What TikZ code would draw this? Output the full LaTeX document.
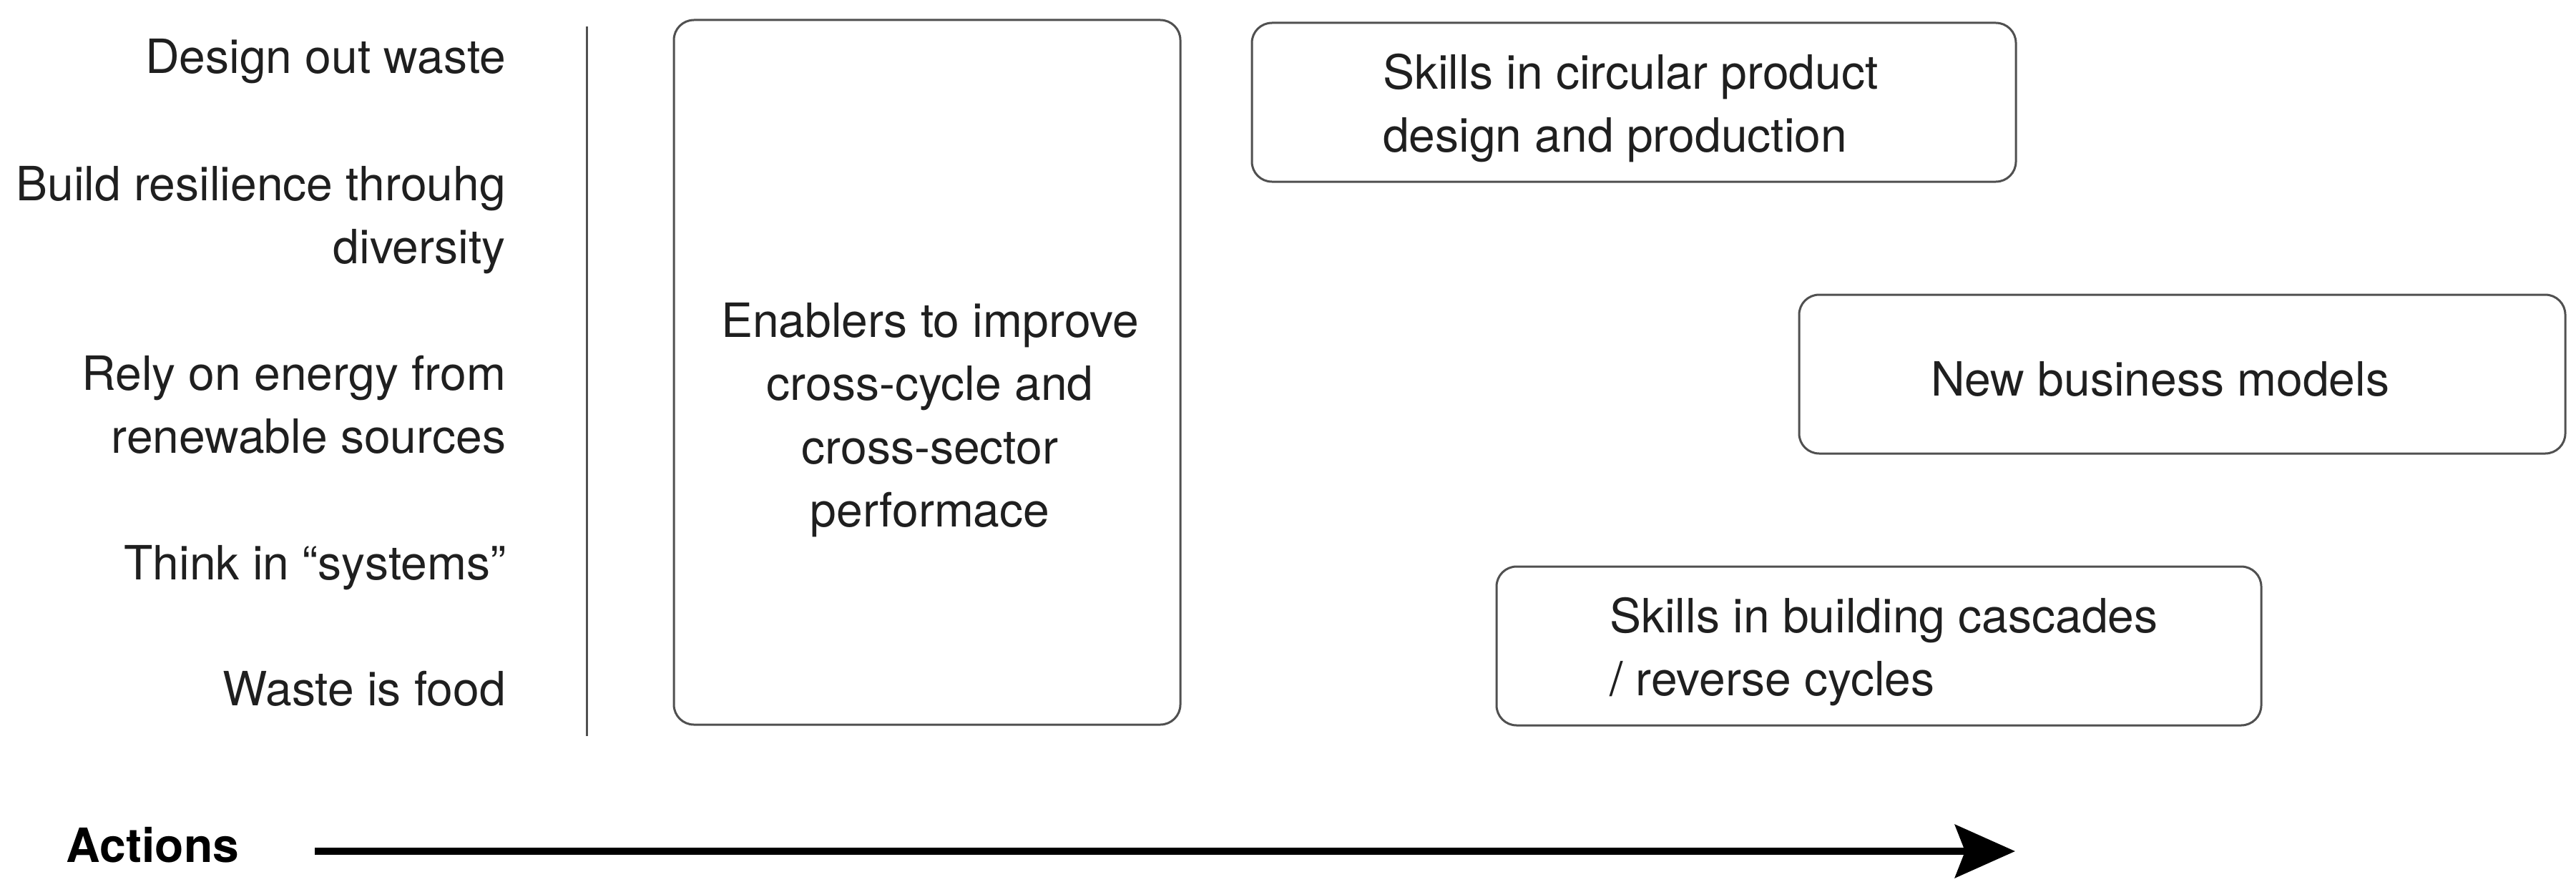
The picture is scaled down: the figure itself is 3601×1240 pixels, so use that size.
\documentclass[tikz,border=0pt]{standalone}
\usepackage{fontspec}
\setmainfont{TeX Gyre Heros}
\usetikzlibrary{arrows.meta}
\definecolor{txtc}{HTML}{1F1F1F}
\definecolor{boxc}{HTML}{505050}
\begin{document}
\begin{tikzpicture}[x=0.2pt,y=-0.2pt,
  every node/.style={inner sep=0pt, outer sep=0pt, text=txtc,
    font=\fontsize{13.2pt}{17.7pt}\selectfont},
  box/.style={draw=boxc, line width=0.6pt, rounded corners=5.6pt},
  divider/.style={draw=boxc, line width=0.6pt},
  axis/.style={draw=black, line width=2pt,
    -{Stealth[length=16.8pt,width=14.8pt,inset=2.8pt]}},
]
\useasboundingbox (0,0) rectangle (3601,1240);

% left principle labels
\node[anchor=base east] (l1) at (707,102) {Design out waste};
\node[anchor=north east, align=right] (l2) at (707,232) {Build resilience throuhg\\diversity};
\node[anchor=north east, align=right] (l3) at (707,497) {Rely on energy from\\renewable sources};
\node[anchor=base east] (l4) at (707,810) {Think in “systems”};
\node[anchor=base east] (l5) at (707,986) {Waste is food};

% divider
\coordinate (dtop) at (820,37);
\coordinate (dbot) at (820,1029);
\draw[divider] (dtop) -- (dbot);

% boxes
\node[box, minimum width=141.6pt, minimum height=197pt] (enab) at (1296,520.5) {};
\node[anchor=north, align=center] (enabt) at (1300,423)
  {Enablers to improve\\cross-cycle and\\cross-sector\\performace};

\node[box, minimum width=213.6pt, minimum height=44.4pt] (skill1) at (2284,143) {};
\node[anchor=north west, align=left] (skill1t) at (1933,75)
  {Skills in circular product\\design and production};

\node[box, minimum width=214.2pt, minimum height=44.4pt] (newbm) at (3050.5,523) {};
\node[anchor=base west] (newbmt) at (2699,553) {New business models};

\node[box, minimum width=213.8pt, minimum height=44.4pt] (skill2) at (2626.5,903) {};
\node[anchor=north west, align=left] (skill2t) at (2250,835)
  {Skills in building cascades\\/ reverse cycles};

% actions axis
\node[anchor=base west, text=black, font=\fontsize{13.2pt}{17.7pt}\selectfont\bfseries] (act) at (93,1205) {Actions};
\coordinate (astart) at (440,1190);
\coordinate (aend) at (2817,1190);
\draw[axis] (astart) -- (aend);
\end{tikzpicture}
\end{document}
